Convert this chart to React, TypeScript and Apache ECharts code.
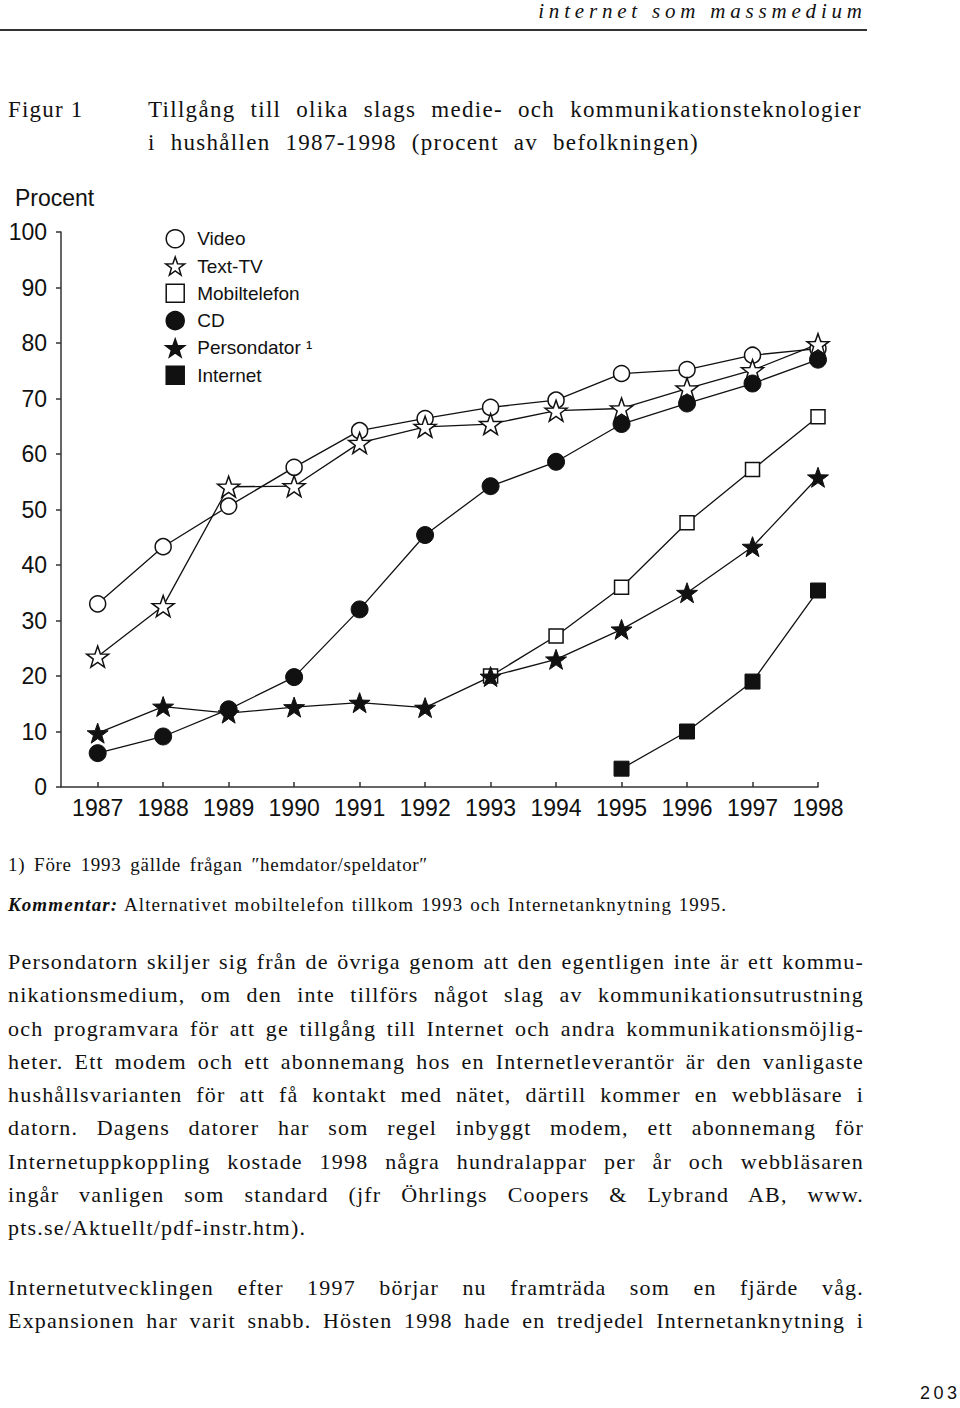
import React, { useEffect, useRef } from "react";
import * as echarts from "echarts";

// ---------- data ----------
const years = [1987, 1988, 1989, 1990, 1991, 1992, 1993, 1994, 1995, 1996, 1997, 1998];
const yTicks = [0, 10, 20, 30, 40, 50, 60, 70, 80, 90, 100];
const seriesNames = ["Video", "Text-TV", "Mobiltelefon", "CD", "Persondator", "Internet"];
const video = [33, 43.3, 50.6, 57.6, 64.2, 66.4, 68.4, 69.7, 74.5, 75.2, 77.8, 79];
const textTv = [23.5, 32.6, 54.1, 54.2, 62.0, 64.9, 65.4, 67.8, 68.2, 71.8, 75.1, 79.8];
const mobil = [null, null, null, null, null, null, 20.0, 27.2, 36.0, 47.6, 57.2, 66.7];
const cd = [6.1, 9.1, 14.0, 19.8, 32.0, 45.4, 54.2, 58.6, 65.4, 69.1, 72.7, 77.0];
const persondator = [9.7, 14.5, 13.3, 14.4, 15.2, 14.3, 19.9, 23.0, 28.4, 35.0, 43.3, 55.8];
const internet = [null, null, null, null, null, null, null, null, 3.3, 10.0, 19.0, 35.4];

const headerText = "internet som massmedium";
const figLabel = "Figur 1";
const titleLines = [
  "Tillgång till olika slags medie- och kommunikationsteknologier",
  "i hushållen 1987-1998 (procent av befolkningen)",
];
const yAxisName = "Procent";
const footnote = "1) Före 1993 gällde frågan ″hemdator/speldator″";
const commentLabel = "Kommentar:";
const commentText = " Alternativet mobiltelefon tillkom 1993 och Internetanknytning 1995.";
const para1 = [
  "Persondatorn skiljer sig från de övriga genom att den egentligen inte är ett kommu-",
  "nikationsmedium, om den inte tillförs något slag av kommunikationsutrustning",
  "och programvara för att ge tillgång till Internet och andra kommunikationsmöjlig-",
  "heter. Ett modem och ett abonnemang hos en Internetleverantör är den vanligaste",
  "hushållsvarianten för att få kontakt med nätet, därtill kommer en webbläsare i",
  "datorn. Dagens datorer har som regel inbyggt modem, ett abonnemang för",
  "Internetuppkoppling kostade 1998 några hundralappar per år och webbläsaren",
  "ingår vanligen som standard (jfr Öhrlings Coopers & Lybrand AB, www.",
  "pts.se/Aktuellt/pdf-instr.htm).",
];
const para2 = [
  "Internetutvecklingen efter 1997 börjar nu framträda som en fjärde våg.",
  "Expansionen har varit snabb. Hösten 1998 hade en tredjedel Internetanknytning i",
];
const pageNumber = "203";

// ---------- helpers ----------
function starPath(inner: number) {
  const pts: string[] = [];
  for (let i = 0; i < 10; i++) {
    const r = i % 2 === 0 ? 50 : 50 * inner;
    const a = -Math.PI / 2 + (i * Math.PI) / 5;
    pts.push(`${(50 + r * Math.cos(a)).toFixed(2)} ${(50 + r * Math.sin(a)).toFixed(2)}`);
  }
  return "path://M" + pts.join(" L") + " Z";
}
const STAR = starPath(0.4);
const SQUARE = "path://M0 0 L10 0 L10 10 L0 10 Z";

function pairs(arr: (number | null)[]) {
  const out: number[][] = [];
  arr.forEach((v, i) => {
    if (v !== null) out.push([years[i], v]);
  });
  return out;
}

const SERIF = '"Liberation Serif", "DejaVu Serif", serif';
const SANS = '"Liberation Sans", Arial, sans-serif';
const INK = "#111";

// top from baseline for Liberation Serif
function serifTop(baseline: number, f: number, lh: number) {
  return baseline - ((lh - 1.107 * f) / 2 + 0.891 * f);
}

export default function App() {
  const ref = useRef<HTMLDivElement>(null);

  useEffect(() => {
    if (!ref.current) return;
    const chart = echarts.init(ref.current, null, { renderer: "svg" });
    const open = { color: "#fff", borderColor: INK, borderWidth: 1.5 };
    const filled = { color: INK, borderColor: INK, borderWidth: 1 };
    const line = { color: INK, width: 1.3 };
    const defs = [
      { name: seriesNames[0], data: video, symbol: "circle", size: 16, style: open },
      { name: seriesNames[1], data: textTv, symbol: STAR, size: 22, style: open },
      { name: seriesNames[2], data: mobil, symbol: SQUARE, size: 14, style: open },
      { name: seriesNames[3], data: cd, symbol: "circle", size: 17, style: filled },
      { name: seriesNames[4], data: persondator, symbol: STAR, size: 21, style: filled },
      { name: seriesNames[5], data: internet, symbol: SQUARE, size: 15, style: filled },
    ];
    chart.setOption({
      animation: false,
      textStyle: { fontFamily: SANS },
      grid: { left: 61, right: 142, top: 52, bottom: 53 },
      graphic: [
        {
          type: "text",
          left: 15,
          top: 6,
          style: { text: yAxisName, fontSize: 23, fontFamily: SANS, fill: INK },
        },
      ],
      legend: {
        orient: "vertical",
        left: 160,
        top: 44,
        itemWidth: 34,
        itemHeight: 18,
        itemGap: 7.8,
        selectedMode: false,
        textStyle: { fontSize: 19, color: INK, fontFamily: SANS, lineHeight: 18 },
        formatter: (n: string) => (n === "Persondator" ? "Persondator ¹" : n),
        data: defs.map((d) => ({
          name: d.name,
          icon: d.symbol,
          itemStyle: { ...d.style, borderWidth: 1.5 },
        })),
      },
      xAxis: {
        type: "value",
        min: 1986.44,
        max: 1998,
        axisLine: { show: true, onZero: false, lineStyle: { color: "#333", width: 1.5 } },
        axisTick: {
          show: true,
          inside: true,
          length: 5,
          customValues: years,
          lineStyle: { color: "#333", width: 1.5 },
        },
        axisLabel: {
          customValues: years,
          margin: 9,
          fontSize: 23,
          color: INK,
          fontFamily: SANS,
          formatter: (v: number) => String(v),
        },
        splitLine: { show: false },
      },
      yAxis: {
        type: "value",
        min: yTicks[0],
        max: yTicks[yTicks.length - 1],
        interval: 10,
        axisLine: { show: true, onZero: false, lineStyle: { color: "#333", width: 1.5 } },
        axisTick: { show: true, length: 5, lineStyle: { color: "#333", width: 1.5 } },
        axisLabel: { margin: 14, fontSize: 23, color: INK, fontFamily: SANS },
        splitLine: { show: false },
      },
      series: defs.map((d) => ({
        name: d.name,
        type: "line",
        data: pairs(d.data),
        symbol: d.symbol,
        symbolSize: d.size,
        symbolKeepAspect: true,
        itemStyle: d.style,
        lineStyle: line,
        emphasis: { disabled: true },
      })),
    });
    return () => chart.dispose();
  }, []);

  const bodyF = 22;
  const bodyLH = 33.3;
  const p1Base = 969;
  const p2Base = 1295;

  const justified = (text: string, key: string, top: number, left: number, width: number, style: any, last = false) => (
    <div
      key={key}
      style={{
        position: "absolute",
        left,
        top,
        width,
        textAlign: last ? "left" : "justify",
        textAlignLast: last ? "left" : "justify",
        ...style,
      }}
    >
      {text}
    </div>
  );

  const bodyStyle = { fontFamily: SERIF, fontSize: bodyF, lineHeight: bodyLH + "px", color: INK, letterSpacing: 1.2 };
  const titleStyle = { fontFamily: SERIF, fontSize: 23, lineHeight: "33px", color: INK, letterSpacing: 1.3 };

  return (
    <div style={{ position: "absolute", left: 0, top: 0, width: 960, height: 1408, background: "#fff", overflow: "hidden" }}>
      {/* running header */}
      <div
        style={{
          position: "absolute",
          left: 0,
          top: serifTop(18.3, 21, 24),
          width: 862 + 4.8,
          textAlign: "right",
          fontFamily: SERIF,
          fontStyle: "italic",
          fontSize: 21,
          lineHeight: "24px",
          letterSpacing: 4.8,
          color: INK,
        }}
      >
        {headerText}
      </div>
      <div style={{ position: "absolute", left: 0, top: 29, width: 867, height: 2, background: "#333" }} />

      {/* figure title */}
      <div
        style={{
          position: "absolute",
          left: 8,
          top: serifTop(117, 23, 33),
          whiteSpace: "nowrap",
          fontFamily: SERIF,
          fontSize: 23,
          lineHeight: "33px",
          color: INK,
          letterSpacing: 1.2,
        }}
      >
        {figLabel}
      </div>
      {justified(titleLines[0], "t0", serifTop(117, 23, 33), 148, 714, titleStyle)}
      {justified(titleLines[1], "t1", serifTop(150, 23, 33), 148, 551, titleStyle)}

      {/* chart */}
      <div ref={ref} style={{ position: "absolute", left: 0, top: 180, width: 960, height: 660 }} />

      {/* footnotes */}
      {justified(footnote, "fn", serifTop(871, 19, 24), 8, 420, { fontFamily: SERIF, fontSize: 19, lineHeight: "24px", color: INK, letterSpacing: 0.7 })}
      <div
        style={{
          position: "absolute",
          left: 8,
          top: serifTop(911, 19, 24),
          width: 719,
          textAlign: "justify",
          textAlignLast: "justify",
          fontFamily: SERIF,
          fontSize: 19,
          lineHeight: "24px",
          color: INK,
          letterSpacing: 1.1,
        }}
      >
        <b>
          <i>{commentLabel}</i>
        </b>
        {commentText}
      </div>

      {/* body text */}
      {para1.map((t, i) =>
        justified(t, "p1" + i, serifTop(p1Base + i * bodyLH, bodyF, bodyLH), 8, 856, bodyStyle, i === para1.length - 1)
      )}
      {para2.map((t, i) => justified(t, "p2" + i, serifTop(p2Base + i * bodyLH, bodyF, bodyLH), 8, 856, bodyStyle))}

      {/* page number */}
      <div
        style={{
          position: "absolute",
          left: 0,
          top: 1399 - 16.3,
          width: 957 + 3.5,
          textAlign: "right",
          fontFamily: SANS,
          fontSize: 18,
          lineHeight: "20px",
          letterSpacing: 3.5,
          color: INK,
        }}
      >
        {pageNumber}
      </div>
    </div>
  );
}
